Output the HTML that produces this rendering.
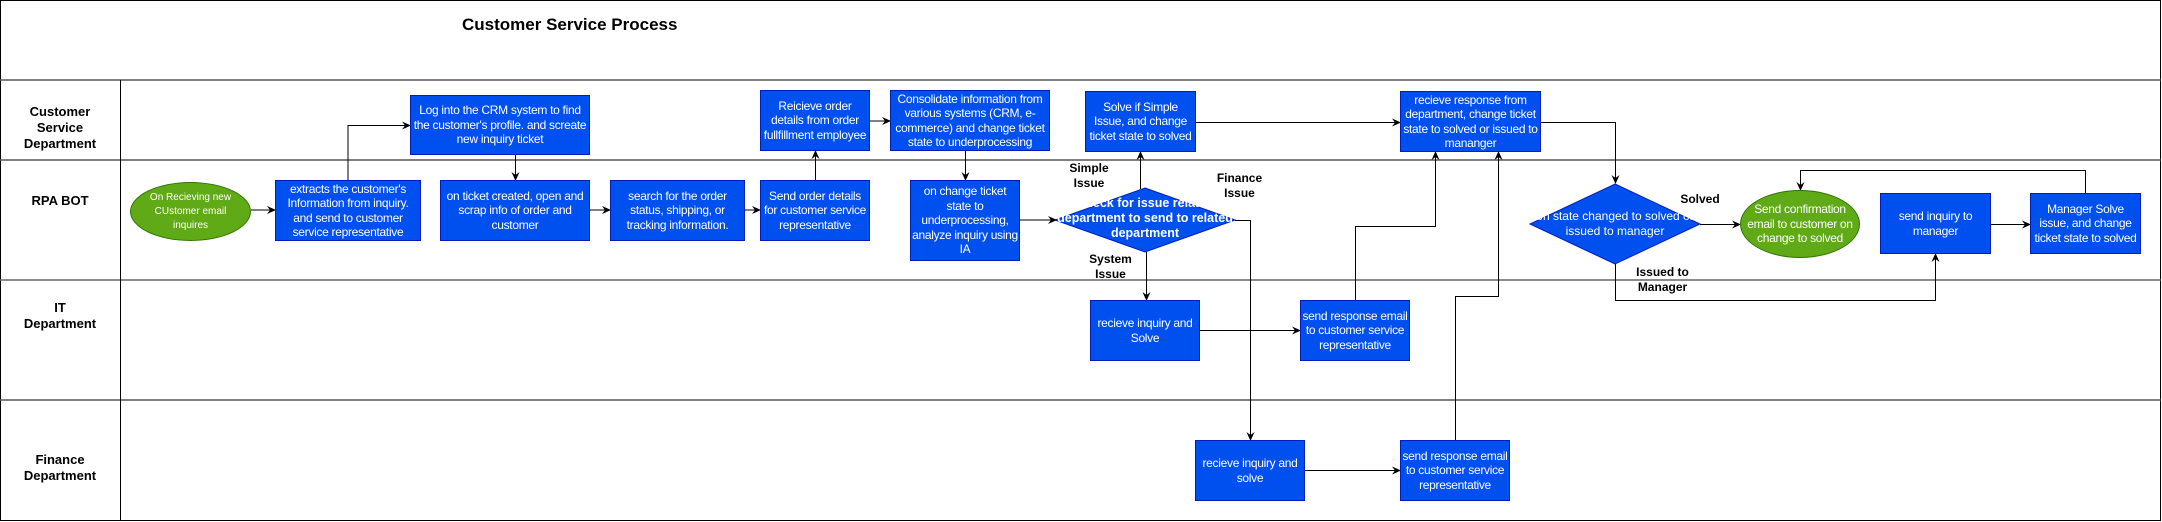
<!DOCTYPE html>
<html><head><meta charset="utf-8"><style>
body{margin:0;width:2162px;height:522px;background:#fff;position:relative;overflow:hidden;font-family:"Liberation Sans",sans-serif}
.b{position:absolute;background:#0050ef;border:1px solid #001dbc;box-sizing:border-box;color:#fff;font-size:12px;letter-spacing:-0.3px;line-height:14.5px;display:flex;align-items:center;justify-content:center;text-align:center;overflow:hidden;padding:0 1px}
.e{position:absolute;background:#60a917;border:1px solid #2d7600;border-radius:50%;box-sizing:border-box;color:#fff;display:flex;align-items:center;justify-content:center;text-align:center}
.l{position:absolute;font-weight:bold;font-size:12px;line-height:15px;text-align:center;color:#000}
.lane{position:absolute;left:0;width:120px;font-weight:bold;font-size:13px;line-height:16px;text-align:center}
svg{position:absolute;left:0;top:0}
</style></head><body>
<svg width="2162" height="522">
<defs><marker id="a" markerWidth="10" markerHeight="10" refX="8" refY="5" orient="auto" markerUnits="userSpaceOnUse"><path d="M0,1 L9,5 L0,9 L3,5 Z" fill="#000"/></marker></defs>
<rect x="0.5" y="0.5" width="2160" height="520" fill="none" stroke="#000"/>
<line x1="0" y1="80" x2="2161" y2="80" stroke="#555" stroke-width="1.5"/>
<line x1="0" y1="160" x2="2161" y2="160" stroke="#555" stroke-width="1.5"/>
<line x1="0" y1="280" x2="2161" y2="280" stroke="#666" stroke-width="1.5"/>
<line x1="0" y1="400" x2="2161" y2="400" stroke="#555" stroke-width="1.5"/>
<line x1="120.5" y1="80" x2="120.5" y2="521" stroke="#000"/>
<polygon points="1145,188 1235,220 1145,252 1055,220" fill="#0050ef" stroke="#001dbc"/>
<polygon points="1615,184 1700,224 1615,264 1530,224" fill="#0050ef" stroke="#001dbc"/>
<g fill="none" stroke="#000" stroke-width="1" marker-end="url(#a)">
<path d="M251,210 H275"/>
<path d="M348,180 V125.5 H410"/>
<path d="M515.5,155 V180"/>
<path d="M590,210 H610"/>
<path d="M745,210 H760"/>
<path d="M815.5,180 V151"/>
<path d="M870,121 H890"/>
<path d="M965.5,151 V180"/>
<path d="M1020,220 H1056"/>
<path d="M1140.5,189 V152"/>
<path d="M1146.5,252 V300"/>
<path d="M1235,220.5 H1250.5 V440"/>
<path d="M1200,330.5 H1300"/>
<path d="M1305,470.5 H1400"/>
<path d="M1196,122.5 H1400"/>
<path d="M1355.5,300 V226.5 H1435.5 V152"/>
<path d="M1455.5,440 V296.5 H1498.5 V152"/>
<path d="M1541,122.5 H1615.5 V183"/>
<path d="M1700,224.5 H1740"/>
<path d="M1615.5,264 V300.5 H1935.5 V254"/>
<path d="M1991,224.5 H2030"/>
<path d="M2085.5,193 V170.5 H1800.5 V190"/>
</g>
</svg>
<div style="position:absolute;left:462px;top:15px;font-weight:bold;font-size:17px">Customer Service Process</div>
<div class="lane" style="top:104px">Customer<br>Service<br>Department</div>
<div class="lane" style="top:193px">RPA BOT</div>
<div class="lane" style="top:300px">IT<br>Department</div>
<div class="lane" style="top:452px">Finance<br>Department</div>

<div class="e" style="left:130px;top:182px;width:121px;height:59px;font-size:10px;line-height:14px">On Recieving new<br>CUstomer email<br>inquires</div>
<div class="b" style="left:275px;top:180px;width:146px;height:61px">extracts the customer's Information from inquiry. and send to customer service representative</div>
<div class="b" style="left:410px;top:95px;width:180px;height:60px">Log into the CRM system to find the customer's profile. and screate new inquiry ticket</div>
<div class="b" style="left:440px;top:180px;width:150px;height:61px">on ticket created, open and scrap info of order and customer</div>
<div class="b" style="left:610px;top:180px;width:135px;height:61px">search for the order status, shipping, or tracking information.</div>
<div class="b" style="left:760px;top:180px;width:110px;height:61px">Send order details for customer service representative</div>
<div class="b" style="left:760px;top:90px;width:110px;height:61px">Reicieve order details from order fullfillment employee</div>
<div class="b" style="left:890px;top:90px;width:160px;height:61px">Consolidate information from various systems (CRM, e-commerce) and change ticket state to underprocessing</div>
<div class="b" style="left:910px;top:180px;width:110px;height:81px">on change ticket state to underprocessing, analyze inquiry using IA</div>
<div style="position:absolute;left:1050px;top:196px;width:190px;color:#fff;font-weight:bold;font-size:12.5px;line-height:15px;text-align:center;white-space:nowrap;overflow:hidden">Check for issue related<br>department to send to related<br>department</div>
<div class="l" style="left:1064px;top:161px;width:50px">Simple<br>Issue</div>
<div class="l" style="left:1212px;top:171px;width:55px">Finance<br>Issue</div>
<div class="l" style="left:1083px;top:252px;width:55px">System<br>Issue</div>
<div class="b" style="left:1085px;top:91px;width:111px;height:61px">Solve if Simple Issue, and change ticket state to solved</div>
<div class="b" style="left:1090px;top:300px;width:110px;height:61px">recieve inquiry and Solve</div>
<div class="b" style="left:1300px;top:300px;width:110px;height:61px">send response email to customer service representative</div>
<div class="b" style="left:1195px;top:440px;width:110px;height:61px">recieve inquiry and solve</div>
<div class="b" style="left:1400px;top:440px;width:110px;height:61px">send response email to customer service representative</div>
<div class="b" style="left:1400px;top:91px;width:141px;height:61px">recieve response from department, change ticket state to solved or issued to mananger</div>
<div style="position:absolute;left:1527px;top:209px;width:176px;color:#fff;font-size:12px;line-height:15px;text-align:center;white-space:nowrap;overflow:hidden">on state changed to solved or<br>issued to manager</div>
<div class="l" style="left:1680px;top:192px;width:40px">Solved</div>
<div class="l" style="left:1630px;top:265px;width:65px">Issued to<br>Manager</div>
<div class="e" style="left:1740px;top:190px;width:120px;height:68px;font-size:12px;letter-spacing:-0.3px;line-height:14.5px">Send confirmation email to customer on change to solved</div>
<div class="b" style="left:1880px;top:193px;width:111px;height:61px">send inquiry to manager</div>
<div class="b" style="left:2030px;top:193px;width:111px;height:61px">Manager Solve issue, and change ticket state to solved</div>
</body></html>
